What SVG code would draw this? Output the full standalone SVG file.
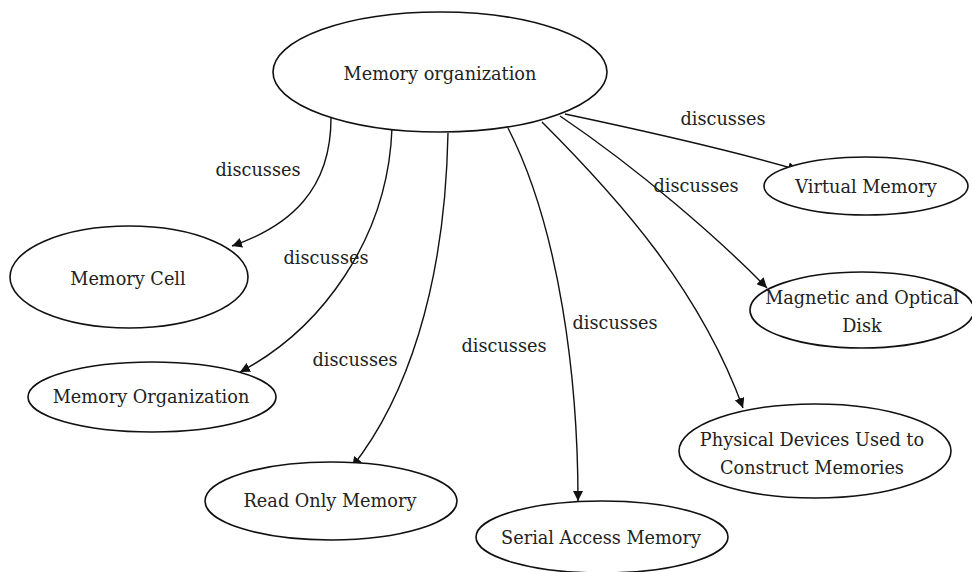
<svg xmlns="http://www.w3.org/2000/svg" width="972" height="572" viewBox="0 0 972 572">
<style>
.n ellipse{fill:#fff;stroke:#111;stroke-width:1.6}
text{font-family:"DejaVu Serif","Liberation Serif",serif;font-size:17.7px;fill:#222;text-anchor:middle}
.e path{fill:none;stroke:#111;stroke-width:1.4;marker-end:url(#ah)}
</style>
<defs>
<marker id="ah" viewBox="0 0 10 10" refX="10" refY="5" markerWidth="10" markerHeight="10" markerUnits="userSpaceOnUse" orient="auto">
<path d="M0,0 L10,5 L0,10 z" fill="#111"/>
</marker>
</defs>
<rect width="972" height="572" fill="#fff"/>
<g id="connectors" class="e">
<path d="M331,118 C331,190 290,226 232,246"/>
<path d="M392,128 C388,240 320,330 240,372"/>
<path d="M448,133 C445,290 405,400 352,467"/>
<path d="M508,128 C560,230 578,380 578,501"/>
<path d="M542,122 C620,200 700,290 743,408"/>
<path d="M560,116 C640,170 720,240 767,288"/>
<path d="M565,114 C650,132 730,150 798,170"/>
</g>
<g id="labels">
<text x="258" y="176">discusses</text>
<text x="326" y="264">discusses</text>
<text x="355" y="366">discusses</text>
<text x="504" y="352">discusses</text>
<text x="615" y="329">discusses</text>
<text x="696" y="192">discusses</text>
<text x="723" y="125">discusses</text>
</g>
<g id="root" class="n"><ellipse cx="440" cy="72" rx="167" ry="60"/><text x="440" y="80">Memory organization</text></g>
<g id="cell" class="n"><ellipse cx="129" cy="277" rx="119" ry="51"/><text x="128" y="285">Memory Cell</text></g>
<g id="org" class="n"><ellipse cx="152" cy="397" rx="124" ry="35"/><text x="151" y="403">Memory Organization</text></g>
<g id="rom" class="n"><ellipse cx="331" cy="501" rx="126" ry="39"/><text x="330" y="507">Read Only Memory</text></g>
<g id="sam" class="n"><ellipse cx="602" cy="537" rx="126" ry="36"/><text x="601" y="544">Serial Access Memory</text></g>
<g id="phys" class="n"><ellipse cx="815" cy="451" rx="136" ry="47"/><text x="812" y="446">Physical Devices Used to</text><text x="812" y="474">Construct Memories</text></g>
<g id="virt" class="n"><ellipse cx="866" cy="186" rx="102" ry="29"/><text x="866" y="193">Virtual Memory</text></g>
<g id="mag" class="n"><ellipse cx="862" cy="310" rx="112" ry="38"/><text x="862" y="304">Magnetic and Optical</text><text x="862" y="332">Disk</text></g>
</svg>
